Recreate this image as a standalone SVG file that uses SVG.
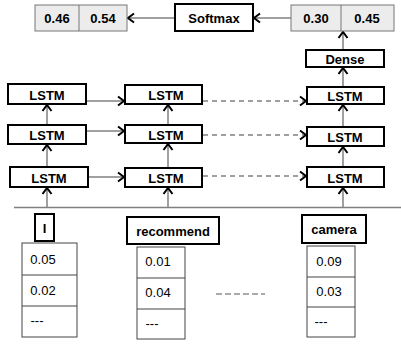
<svg xmlns="http://www.w3.org/2000/svg" width="401" height="344" viewBox="0 0 401 344">
<style>
text{font-family:"Liberation Sans",Arial,sans-serif;font-size:13px;fill:#000;text-anchor:middle;dominant-baseline:central}
.b{font-weight:bold}
.node{fill:#fff;stroke:#000;stroke-width:2}
.out{fill:#ececec;stroke:#777;stroke-width:1}
.tbl{fill:#fff;stroke:#444;stroke-width:1}
.c{stroke:#808080;stroke-width:1.5;fill:none}
.d{stroke:#808080;stroke-width:1.5;fill:none;stroke-dasharray:5,4}
</style>
<defs>
<marker id="ah" markerUnits="userSpaceOnUse" markerWidth="12" markerHeight="12" refX="9" refY="6" orient="auto">
<path d="M3,1.5 L9,6 L3,10.5" fill="none" stroke="#000" stroke-width="2"/>
</marker>
</defs>
<rect width="401" height="344" fill="#fff"/>
<g id="connectors">
<line class="c" x1="175" y1="18" x2="128" y2="18" marker-end="url(#ah)"/>
<line class="c" x1="291" y1="18" x2="254" y2="18" marker-end="url(#ah)"/>
<line class="c" x1="343" y1="50" x2="343" y2="32" marker-end="url(#ah)"/>
<line class="c" x1="343" y1="87" x2="343" y2="68" marker-end="url(#ah)"/>
<line class="c" x1="14" y1="207.5" x2="401" y2="207.5"/>
<line class="c" x1="47" y1="207.5" x2="47" y2="188" marker-end="url(#ah)"/>
<line class="c" x1="47" y1="167" x2="47" y2="145" marker-end="url(#ah)"/>
<line class="c" x1="47" y1="125" x2="47" y2="105" marker-end="url(#ah)"/>
<line class="c" x1="168" y1="207.5" x2="168" y2="188" marker-end="url(#ah)"/>
<line class="c" x1="168" y1="168" x2="168" y2="144" marker-end="url(#ah)"/>
<line class="c" x1="168" y1="125" x2="168" y2="105" marker-end="url(#ah)"/>
<line class="c" x1="343" y1="207.5" x2="343" y2="188" marker-end="url(#ah)"/>
<line class="c" x1="343" y1="167" x2="343" y2="147" marker-end="url(#ah)"/>
<line class="c" x1="343" y1="127" x2="343" y2="105" marker-end="url(#ah)"/>
<line class="c" x1="87" y1="101" x2="124" y2="101" marker-end="url(#ah)"/>
<line class="c" x1="87" y1="131" x2="124" y2="131" marker-end="url(#ah)"/>
<line class="c" x1="89" y1="177" x2="124" y2="177" marker-end="url(#ah)"/>
<line class="d" x1="203" y1="101" x2="306" y2="101" marker-end="url(#ah)"/>
<line class="d" x1="203" y1="135" x2="306" y2="135" marker-end="url(#ah)"/>
<line class="d" x1="203" y1="176" x2="306" y2="176" marker-end="url(#ah)"/>
</g>
<g id="output-left">
<rect class="out" x="35" y="5" width="92" height="26"/>
<line x1="79" y1="5" x2="79" y2="31" stroke="#777"/>
<text class="b" x="57" y="18.5">0.46</text>
<text class="b" x="103" y="18.5">0.54</text>
</g>
<g id="softmax">
<rect class="node" x="175" y="4" width="78" height="27"/>
<text class="b" x="214" y="18">Softmax</text>
</g>
<g id="output-right">
<rect class="out" x="291" y="5" width="103" height="26"/>
<line x1="341" y1="5" x2="341" y2="31" stroke="#777"/>
<text class="b" x="316" y="18.5">0.30</text>
<text class="b" x="367" y="18.5">0.45</text>
</g>
<g id="dense">
<rect class="node" x="306" y="50" width="78" height="17"/>
<text class="b" x="345" y="59.5">Dense</text>
</g>
<g id="lstm-1-3"><rect class="node" x="8" y="84" width="78" height="20"/><text class="b" x="47" y="95">LSTM</text></g>
<g id="lstm-1-2"><rect class="node" x="8" y="125" width="78" height="19"/><text class="b" x="47" y="135.5">LSTM</text></g>
<g id="lstm-1-1"><rect class="node" x="10" y="167" width="78" height="20"/><text class="b" x="49" y="178">LSTM</text></g>
<g id="lstm-2-3"><rect class="node" x="125" y="85" width="77" height="19"/><text class="b" x="166" y="95.5">LSTM</text></g>
<g id="lstm-2-2"><rect class="node" x="125" y="125" width="77" height="18"/><text class="b" x="166" y="135">LSTM</text></g>
<g id="lstm-2-1"><rect class="node" x="125" y="168" width="77" height="19"/><text class="b" x="166" y="178.5">LSTM</text></g>
<g id="lstm-3-3"><rect class="node" x="307" y="87" width="77" height="17"/><text class="b" x="345" y="96.5">LSTM</text></g>
<g id="lstm-3-2"><rect class="node" x="307" y="127" width="77" height="19"/><text class="b" x="345" y="137.5">LSTM</text></g>
<g id="lstm-3-1"><rect class="node" x="307" y="167" width="77" height="20"/><text class="b" x="345" y="178">LSTM</text></g>
<g id="word-I"><rect class="node" x="35" y="214" width="19" height="27"/><text class="b" x="44.5" y="228">I</text></g>
<g id="word-recommend"><rect class="node" x="127" y="217" width="92" height="27"/><text class="b" x="173" y="231">recommend</text></g>
<g id="word-camera"><rect class="node" x="302" y="215" width="64" height="28"/><text class="b" x="334" y="229.5">camera</text></g>
<g id="vec-I">
<rect class="tbl" x="22" y="243" width="55" height="94"/>
<line x1="22" y1="275" x2="77" y2="275" stroke="#444"/>
<line x1="22" y1="306" x2="77" y2="306" stroke="#444"/>
<text x="43" y="259">0.05</text>
<text x="43" y="290">0.02</text>
<text x="37" y="320">---</text>
</g>
<g id="vec-recommend">
<rect class="tbl" x="137" y="247" width="48" height="92"/>
<line x1="137" y1="278" x2="185" y2="278" stroke="#444"/>
<line x1="137" y1="309" x2="185" y2="309" stroke="#444"/>
<text x="158" y="261.5">0.01</text>
<text x="158" y="292.5">0.04</text>
<text x="152" y="323.5">---</text>
</g>
<g id="vec-camera">
<rect class="tbl" x="307" y="246" width="48" height="91"/>
<line x1="307" y1="277" x2="355" y2="277" stroke="#444"/>
<line x1="307" y1="307" x2="355" y2="307" stroke="#444"/>
<text x="329" y="261">0.09</text>
<text x="329" y="291.5">0.03</text>
<text x="321" y="321">---</text>
</g>
<g id="ellipsis">
<line x1="216" y1="294" x2="265" y2="294" stroke="#555" stroke-width="1" stroke-dasharray="6,3"/>
</g>
</svg>
